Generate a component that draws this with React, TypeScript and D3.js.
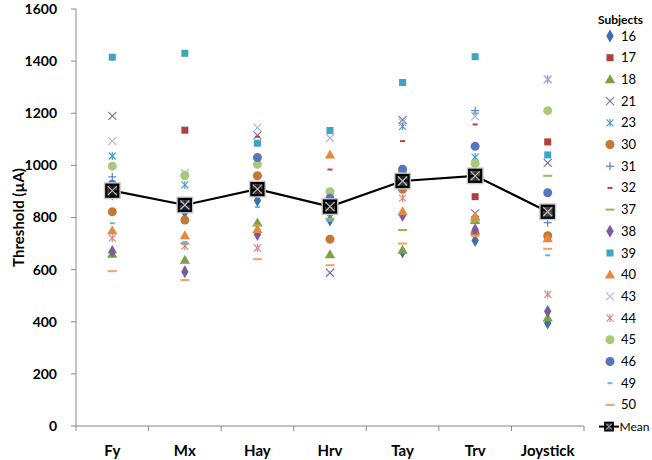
import React from "react";
import * as d3 from "d3";

const categories = ["Fy", "Mx", "Hay", "Hrv", "Tay", "Trv", "Joystick"];
const yTicks = [0, 200, 400, 600, 800, 1000, 1200, 1400, 1600];

const s16 = [890, 820, 865, 790, 668, 712, 395];
const s17 = [912, 1135, 910, 845, 945, 880, 1090];
const s18 = [660, 637, 780, 658, 675, 790, 415];
const s21 = [1190, 840, 1115, 588, 1175, 816, 1010];
const s23 = [1036, 925, 905, 800, 1150, 1032, 1330];
const s30 = [822, 790, 960, 717, 908, 740, 730];
const s31 = [956, 850, 900, 850, 960, 1210, 780];
const s32 = [900, 950, 1110, 984, 1093, 1157, 905];
const s37 = [665, 700, 770, 795, 752, 785, 960];
const s38 = [670, 592, 735, 860, 808, 753, 440];
const s39 = [1415, 1430, 1085, 1134, 1318, 1417, 1040];
const s40 = [750, 731, 755, 1041, 823, 804, 720];
const s43 = [1093, 970, 1145, 1105, 1165, 1188, 1330];
const s44 = [721, 690, 683, 830, 874, 960, 505];
const s45 = [997, 962, 1004, 899, 975, 1007, 1210];
const s46 = [928, 835, 1030, 874, 985, 1073, 895];
const s49 = [778, 706, 840, 788, 930, 1200, 655];
const s50 = [594, 560, 640, 617, 700, 730, 680];
const meanValues = [903, 848, 909, 842, 940, 960, 822];

const subjectNames = ["16", "17", "18", "21", "23", "30", "31", "32", "37", "38", "39", "40", "43", "44", "45", "46", "49", "50"];
const subjectValues = [s16, s17, s18, s21, s23, s30, s31, s32, s37, s38, s39, s40, s43, s44, s45, s46, s49, s50];
const markerTypes = ["diamond", "square", "triangle", "x", "star", "circle", "plus", "shortDash", "longDash", "diamond", "square", "triangle", "x", "star", "circle", "circle", "shortDash", "longDash"];
const markerColors = ["#3F6FAA", "#B0403D", "#7F9F45", "#8068A0", "#3D9DB8", "#C97634", "#5B80C0", "#B8403D", "#98B954", "#7B5BA0", "#3FA6C2", "#E8883D", "#A8B4E0", "#E07E7C", "#A9C97A", "#5577BF", "#62B8D6", "#F5A069"];

const W = 652, H = 460;
const left = 76, right = 584, top = 9, bottom = 426;

function Marker({ type, color, x, y }: { type: string; color: string; x: number; y: number }) {
  switch (type) {
    case "diamond":
      return <path d={d3.symbol(d3.symbolDiamond, 48)()!} transform={`translate(${x},${y})`} fill={color} />;
    case "square":
      return <rect x={x - 3.5} y={y - 3.5} width={7} height={7} fill={color} />;
    case "triangle":
      return <path d={d3.symbol(d3.symbolTriangle, 46)()!} transform={`translate(${x},${y + 0.8})`} fill={color} />;
    case "circle":
      return <circle cx={x} cy={y} r={4.5} fill={color} />;
    case "x":
      return (
        <g stroke={color} strokeWidth={1.1}>
          <line x1={x - 4} y1={y - 4} x2={x + 4} y2={y + 4} />
          <line x1={x - 4} y1={y + 4} x2={x + 4} y2={y - 4} />
        </g>
      );
    case "star":
      return (
        <g stroke={color} strokeWidth={1.1}>
          <line x1={x - 3.5} y1={y - 3.5} x2={x + 3.5} y2={y + 3.5} />
          <line x1={x - 3.5} y1={y + 3.5} x2={x + 3.5} y2={y - 3.5} />
          <line x1={x} y1={y - 4} x2={x} y2={y + 4} />
        </g>
      );
    case "plus":
      return (
        <g stroke={color} strokeWidth={1.2}>
          <line x1={x - 4} y1={y} x2={x + 4} y2={y} />
          <line x1={x} y1={y - 4} x2={x} y2={y + 4} />
        </g>
      );
    case "shortDash":
      return <rect x={x - 2.5} y={y - 1} width={5} height={2} fill={color} />;
    case "longDash":
      return <rect x={x - 4.5} y={y - 1} width={9} height={2} fill={color} />;
    default:
      return null;
  }
}

function MeanMarker({ x, y }: { x: number; y: number }) {
  return (
    <g>
      <rect x={x - 7.5} y={y - 7.5} width={15} height={15} fill="none" stroke="#c8c8c8" strokeWidth={2} />
      <rect x={x - 6} y={y - 6} width={12} height={12} fill="#000" fillOpacity={0.72} stroke="#000" strokeWidth={2.2} />
      <line x1={x - 4.5} y1={y - 4.5} x2={x + 4.5} y2={y + 4.5} stroke="#bfbfbf" strokeWidth={1.2} />
      <line x1={x - 4.5} y1={y + 4.5} x2={x + 4.5} y2={y - 4.5} stroke="#bfbfbf" strokeWidth={1.2} />
    </g>
  );
}

export default function App() {
  const x = d3.scaleBand<string>().domain(categories).range([left, right]);
  const y = d3.scaleLinear().domain([0, 1600]).range([bottom, top]);
  const cx = (c: string) => (x(c) ?? 0) + x.bandwidth() / 2;
  const font = "Lato, 'Open Sans', sans-serif";
  const line = d3
    .line<number>()
    .x((_, i) => cx(categories[i]))
    .y((d) => y(d));
  const boundaries = categories.map((c) => x(c)!).concat([right]);
  const legendY0 = 36;
  const legendStep = 21.7;
  const meanLegY = legendY0 + 18 * legendStep;

  return (
    <div style={{ position: "fixed", left: 0, top: 0 }}>
      <svg width={W} height={H} style={{ display: "block", background: "#fff" }} fontFamily={font}>
        {/* Y axis */}
        <line x1={left} y1={top} x2={left} y2={bottom} stroke="#888" strokeWidth={1} />
        {yTicks.map((t) => (
          <g key={t}>
            <line x1={left - 5} y1={y(t)} x2={left} y2={y(t)} stroke="#888" />
            <text x={57} y={y(t)} dy="0.35em" textAnchor="end" fontSize={14} fontWeight="bold" fill="#000">
              {t}
            </text>
          </g>
        ))}
        <text
          transform={`translate(24,${(top + bottom) / 2}) rotate(-90)`}
          textAnchor="middle"
          fontSize={15}
          fontWeight="bold"
          fill="#000"
        >
          Threshold (µA)
        </text>
        {/* X axis */}
        <line x1={left} y1={bottom} x2={right} y2={bottom} stroke="#888" />
        {boundaries.map((b, i) => (
          <line key={i} x1={b} y1={bottom} x2={b} y2={bottom + 5} stroke="#888" />
        ))}
        {categories.map((c) => (
          <text key={c} x={cx(c)} y={451} textAnchor="middle" fontSize={15} fontWeight="bold" fill="#000" dy="0.35em">
            {c}
          </text>
        ))}
        {/* Scatter markers */}
        {subjectValues.map((vals, si) => (
          <g key={si}>
            {vals.map((v, ci) => (
              <Marker key={ci} type={markerTypes[si]} color={markerColors[si]} x={cx(categories[ci])} y={y(v)} />
            ))}
          </g>
        ))}
        {/* Mean line */}
        <path d={line(meanValues)!} fill="none" stroke="#000" strokeWidth={2.2} />
        {meanValues.map((v, i) => (
          <MeanMarker key={i} x={cx(categories[i])} y={y(v)} />
        ))}
        {/* Legend */}
        <text x={598} y={20} fontSize={12} fontWeight="bold" dy="0.35em" fill="#000">
          Subjects
        </text>
        {subjectNames.map((n, i) => (
          <g key={n}>
            <Marker type={markerTypes[i]} color={markerColors[i]} x={610} y={legendY0 + i * legendStep} />
            <text x={621} y={legendY0 + i * legendStep} dy="0.35em" fontSize={13} fill="#000">
              {n}
            </text>
          </g>
        ))}
        <g>
          <line x1={599} y1={meanLegY} x2={619} y2={meanLegY} stroke="#000" strokeWidth={2} />
          <rect x={605} y={meanLegY - 4} width={8} height={8} fill="#000" fillOpacity={0.72} stroke="#000" strokeWidth={1.8} />
          <line x1={606} y1={meanLegY - 3} x2={612} y2={meanLegY + 3} stroke="#bfbfbf" />
          <line x1={606} y1={meanLegY + 3} x2={612} y2={meanLegY - 3} stroke="#bfbfbf" />
          <text x={619.5} y={meanLegY} dy="0.35em" fontSize={12} fill="#000">
            Mean
          </text>
        </g>
      </svg>
    </div>
  );
}
